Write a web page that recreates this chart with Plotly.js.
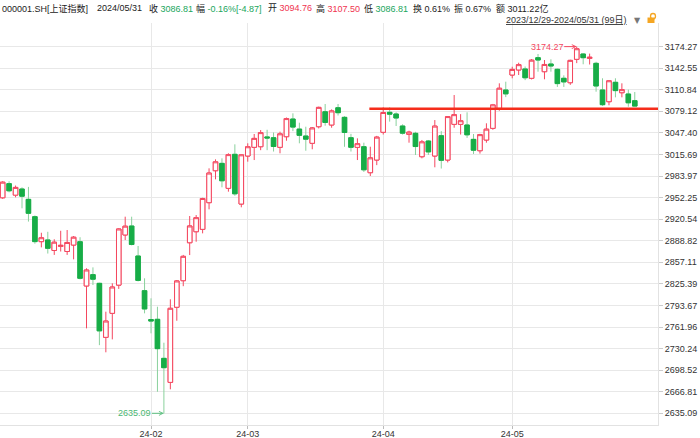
<!DOCTYPE html>
<html><head><meta charset="utf-8">
<script src="https://cdn.plot.ly/plotly-3.0.1.min.js"></script>
<style>html,body{margin:0;padding:0;background:#fff;}#chart{width:700px;height:438px;}</style>
</head><body><div id="chart"></div>
<script>
// ---- data (Shanghai Composite 000001.SH, daily) ----
const dates = ["2023-12-29",
"2024-01-02","2024-01-03","2024-01-04","2024-01-05","2024-01-08","2024-01-09","2024-01-10","2024-01-11","2024-01-12","2024-01-15","2024-01-16","2024-01-17","2024-01-18","2024-01-19","2024-01-22","2024-01-23","2024-01-24","2024-01-25","2024-01-26","2024-01-29","2024-01-30","2024-01-31",
"2024-02-01","2024-02-02","2024-02-05","2024-02-06","2024-02-07","2024-02-08","2024-02-19","2024-02-20","2024-02-21","2024-02-22","2024-02-23","2024-02-26","2024-02-27","2024-02-28","2024-02-29",
"2024-03-01","2024-03-04","2024-03-05","2024-03-06","2024-03-07","2024-03-08","2024-03-11","2024-03-12","2024-03-13","2024-03-14","2024-03-15","2024-03-18","2024-03-19","2024-03-20","2024-03-21","2024-03-22","2024-03-25","2024-03-26","2024-03-27","2024-03-28","2024-03-29",
"2024-04-01","2024-04-02","2024-04-03","2024-04-08","2024-04-09","2024-04-10","2024-04-11","2024-04-12","2024-04-15","2024-04-16","2024-04-17","2024-04-18","2024-04-19","2024-04-22","2024-04-23","2024-04-24","2024-04-25","2024-04-26","2024-04-29","2024-04-30",
"2024-05-06","2024-05-07","2024-05-08","2024-05-09","2024-05-10","2024-05-13","2024-05-14","2024-05-15","2024-05-16","2024-05-17","2024-05-20","2024-05-21","2024-05-22","2024-05-23","2024-05-24","2024-05-27","2024-05-28","2024-05-29","2024-05-30","2024-05-31"];

const open = [2952.0,
2972.78,2955.9,2964.9,2949.7,2924.2,2887.5,2890.0,2874.5,2880.5,2873.0,2882.5,2887.4,2822.3,2839.0,2826.2,2746.8,2782.1,2823.6,2897.3,2910.5,2866.4,2815.4,
2773.0,2773.3,2715.9,2680.6,2791.0,2830.1,2885.9,2902.1,2905.6,2944.8,2991.8,3002.6,2965.9,3015.9,2942.8,
3013.4,3026.2,3027.1,3041.5,3040.3,3026.2,3041.8,3067.8,3053.0,3042.8,3032.1,3056.5,3078.5,3059.0,3084.4,3070.3,3040.3,3026.2,3027.1,2988.9,3007.5,
3048.3,3077.7,3075.2,3057.5,3045.3,3046.8,3012.4,3035.5,3013.4,3043.3,3007.5,3060.0,3060.0,3059.0,3037.9,3021.2,3036.9,3054.1,3083.5,3110.5,
3132.5,3139.9,3141.4,3127.7,3158.0,3137.4,3148.7,3140.9,3127.7,3121.2,3155.6,3163.4,3157.0,3149.7,3110.5,3093.3,3121.8,3106.5,3104.6,3094.76];

const high = [2976.3,
2976.27,2970.0,2967.4,2968.0,2926.0,2900.6,2902.0,2891.0,2903.5,2904.6,2895.8,2894.0,2848.3,2849.7,2827.0,2784.5,2826.2,2907.0,2924.2,2924.2,2881.1,2833.6,
2804.2,2791.8,2738.9,2802.7,2831.0,2868.0,2925.2,2926.6,2952.0,2995.3,3008.5,3010.0,3017.4,3030.6,3016.0,
3032.1,3045.8,3051.6,3052.0,3048.0,3049.2,3070.0,3076.2,3062.4,3056.5,3056.0,3086.0,3089.9,3082.0,3089.9,3072.0,3046.0,3039.4,3033.0,3027.1,3043.0,
3085.0,3085.0,3077.7,3060.0,3050.6,3049.0,3037.0,3037.0,3066.3,3050.0,3072.0,3103.1,3075.0,3077.7,3045.8,3046.0,3061.5,3090.0,3120.3,3122.7,
3144.7,3150.6,3145.0,3156.0,3163.4,3154.6,3155.6,3142.0,3132.0,3155.0,3174.27,3164.4,3164.0,3152.0,3127.7,3125.0,3127.7,3120.3,3111.0,3107.50];

const low = [2950.5,
2960.0,2952.7,2936.5,2917.0,2884.5,2879.1,2870.0,2868.0,2873.0,2868.0,2861.5,2832.0,2760.0,2823.7,2735.3,2724.8,2743.8,2818.0,2889.9,2882.0,2829.0,2782.1,
2752.7,2666.8,2635.09,2670.4,2771.2,2822.0,2867.8,2887.4,2899.7,2935.0,2979.1,2967.4,2961.0,2955.0,2938.0,
3005.1,3007.5,3022.0,3022.0,3020.0,3017.4,3035.9,3050.0,3032.1,3021.2,3023.3,3054.0,3058.0,3055.0,3073.0,3027.0,3020.0,3007.5,2990.0,2984.0,3000.0,
3045.0,3064.0,3057.5,3045.0,3033.0,3014.9,3010.0,3015.0,2996.8,2995.0,3004.0,3055.0,3045.0,3040.0,3016.4,3017.0,3033.0,3052.0,3080.0,3100.0,
3127.7,3132.5,3125.0,3126.0,3137.4,3126.2,3137.4,3115.0,3115.0,3118.0,3150.0,3148.3,3148.0,3108.0,3087.0,3088.0,3099.7,3099.7,3085.9,3086.81];

const close = [2974.93,
2962.28,2967.25,2954.35,2929.18,2887.54,2893.25,2877.70,2886.65,2881.98,2886.29,2893.99,2833.62,2845.78,2832.28,2756.34,2770.74,2820.77,2906.11,2910.22,2883.36,2830.53,2788.55,
2770.74,2730.15,2702.19,2789.49,2829.70,2865.90,2910.54,2922.73,2950.96,2988.36,3004.88,2977.02,3015.48,2957.85,3015.17,
3027.02,3039.31,3047.79,3039.93,3027.40,3046.02,3068.46,3055.94,3043.83,3038.23,3054.64,3084.93,3062.76,3079.69,3077.11,3048.03,3026.31,3031.48,2993.14,3010.66,3041.17,
3077.38,3074.96,3069.30,3047.05,3048.54,3027.34,3034.25,3019.47,3057.38,3007.07,3071.38,3074.22,3065.26,3044.60,3021.98,3044.82,3052.90,3088.64,3113.04,3104.82,
3140.72,3147.74,3128.48,3154.32,3154.55,3148.02,3145.77,3119.90,3122.40,3154.03,3171.15,3157.97,3158.54,3116.39,3088.87,3124.04,3109.57,3111.02,3091.68,3086.81];

const monthLabels = ["24-02","24-03","24-04","24-05"];
const supportLevel = 3083.0;      // horizontal line drawn by the user
const supportStartIndex = 56.85;  // where that line begins

const header = [
  ["000001.SH[上证指数]", null],
  ["2024/05/31", null],
  ["收", "3086.81", "down"],
  ["幅", "-0.16%[-4.87]", "down"],
  ["开", "3094.76", "up"],
  ["高", "3107.50", "up"],
  ["低", "3086.81", "down"],
  ["换", "0.61%", null],
  ["振", "0.67%", null],
  ["额", "3011.22亿", null]
];
const rangeText = "2023/12/29-2024/05/31 (99日)";

// ---- styling ----
const RED = '#f4475f', GREEN = '#17ad47', GREEN_WICK = '#8ad19d';
const RED_TXT = '#f0334f', GREEN_TXT = '#20a55c';
const FONT = '"Liberation Sans", Arial, "Noto Sans CJK SC", sans-serif';
const W = 700, H = 438, ML = 0, MR = 42, MT = 23, MB = 13;
const PW = W - ML - MR, PH = H - MT - MB;
const px = v => (v - ML) / PW;
const py = v => (H - MB - v) / PH;

const idx = dates.map((d, i) => i);
const tickIdx = monthLabels.map(m => dates.findIndex(d => d.slice(2, 7) === m));

const lo = Math.min(...low), hi = Math.max(...high);
const loI = low.indexOf(lo), hiI = high.indexOf(hi);
const step = (hi - lo) / 17;
const yTicks = Array.from({length: 18}, (_, k) => lo + k * step);
const yText = yTicks.map(v => v.toFixed(2));

const bodyHi = open.map((o, i) => Math.max(o, close[i]));
const bodyLo = open.map((o, i) => Math.min(o, close[i]));

const traces = [
  { type: 'candlestick', x: idx, open: open, high: high, low: low, close: close,
    increasing: {line: {color: RED, width: 1}, fillcolor: '#ffffff'},
    decreasing: {line: {color: GREEN_WICK, width: 1}, fillcolor: GREEN},
    whiskerwidth: 0, hoverinfo: 'skip', showlegend: false },
  { type: 'candlestick', x: idx, open: open, high: bodyHi, low: bodyLo, close: close,
    increasing: {line: {color: RED, width: 1}, fillcolor: '#ffffff'},
    decreasing: {line: {color: GREEN, width: 1}, fillcolor: GREEN},
    whiskerwidth: 0, hoverinfo: 'skip', showlegend: false }
];

const headerX = [1, 96, 148, 195, 267, 315, 363, 412, 453, 495];
const annotations = header.map((h, i) => {
  let t = h[0];
  if (h[1] !== null) {
    const col = h[2] === 'up' ? RED_TXT : (h[2] === 'down' ? GREEN_TXT : '#222');
    t = h[0] + ' <span style="color:' + col + '">' + h[1] + '</span>';
  }
  return {xref: 'paper', yref: 'paper', x: px(headerX[i]), y: py(8), xanchor: 'left', yanchor: 'middle',
          text: t, showarrow: false, font: {family: FONT, size: 9, color: '#222'}, borderpad: 0};
});
annotations.push({xref: 'paper', yref: 'paper', x: px(628), y: py(20), xanchor: 'right', yanchor: 'middle',
  text: '<u>' + rangeText + '</u>', showarrow: false, font: {family: FONT, size: 9, color: '#333'}, borderpad: 0});
annotations.push({xref: 'paper', yref: 'paper', x: px(637), y: py(20), xanchor: 'center', yanchor: 'middle',
  text: '▼', showarrow: false, font: {family: '"DejaVu Sans", sans-serif', size: 8, color: '#777'}, borderpad: 0});
annotations.push({x: hiI, y: hi, xref: 'x', yref: 'y', text: hi.toFixed(2), showarrow: true,
  ax: -29.5, ay: 0, arrowhead: 5, arrowsize: 0.8, arrowwidth: 1, arrowcolor: RED, standoff: 0,
  font: {family: FONT, size: 9, color: RED}, borderpad: 0});
annotations.push({x: loI, y: lo, xref: 'x', yref: 'y', text: lo.toFixed(2), showarrow: true,
  ax: -29, ay: 0, arrowhead: 5, arrowsize: 0.8, arrowwidth: 1, arrowcolor: '#5cbf7f', standoff: 0,
  font: {family: FONT, size: 9, color: '#4cb873'}, borderpad: 0});

const shapes = [
  {type: 'line', xref: 'x', yref: 'y', x0: supportStartIndex, x1: 101.6, y0: supportLevel, y1: supportLevel,
   line: {color: '#f52d1b', width: 2.5}},
  // lock icon (decoration)
  {type: 'circle', xref: 'paper', yref: 'paper', x0: px(650.5), x1: px(655.5), y0: py(19), y1: py(13.5),
   line: {color: '#f5a623', width: 1.3}, fillcolor: 'rgba(0,0,0,0)'},
  {type: 'rect', xref: 'paper', yref: 'paper', x0: px(647.5), x1: px(654.5), y0: py(23), y1: py(17.5),
   line: {width: 0}, fillcolor: '#f5a623'}
];

const layout = {
  width: W, height: H, margin: {l: ML, r: MR, t: MT, b: MB, pad: 0},
  paper_bgcolor: '#fff', plot_bgcolor: '#fff', showlegend: false,
  boxgap: 0.3, boxgroupgap: 0,
  font: {family: FONT, size: 9, color: '#333'},
  xaxis: {range: [-0.41, 101.6], tickmode: 'array', tickvals: tickIdx, ticktext: monthLabels,
          showgrid: true, gridcolor: '#e8e8e8', gridwidth: 1, ticks: 'outside', ticklen: 3, tickcolor: '#bbb',
          ticklabelstandoff: -3,
          showline: true, linecolor: '#e2e2e2', zeroline: false, rangeslider: {visible: false},
          automargin: false, fixedrange: true, tickfont: {family: FONT, size: 9, color: '#333'}},
  yaxis: {side: 'right', range: [2617.9, 3209.0], tickmode: 'array', tickvals: yTicks, ticktext: yText,
          showgrid: true, gridcolor: '#e8e8e8', gridwidth: 1, ticks: 'outside', ticklen: 4, tickcolor: '#ccc',
          showline: true, linecolor: '#e2e2e2', zeroline: false, automargin: false, fixedrange: true,
          tickfont: {family: FONT, size: 9, color: '#333'}},
  shapes: shapes, annotations: annotations
};

Plotly.newPlot('chart', traces, layout, {staticPlot: true, displayModeBar: false});
</script></body></html>
